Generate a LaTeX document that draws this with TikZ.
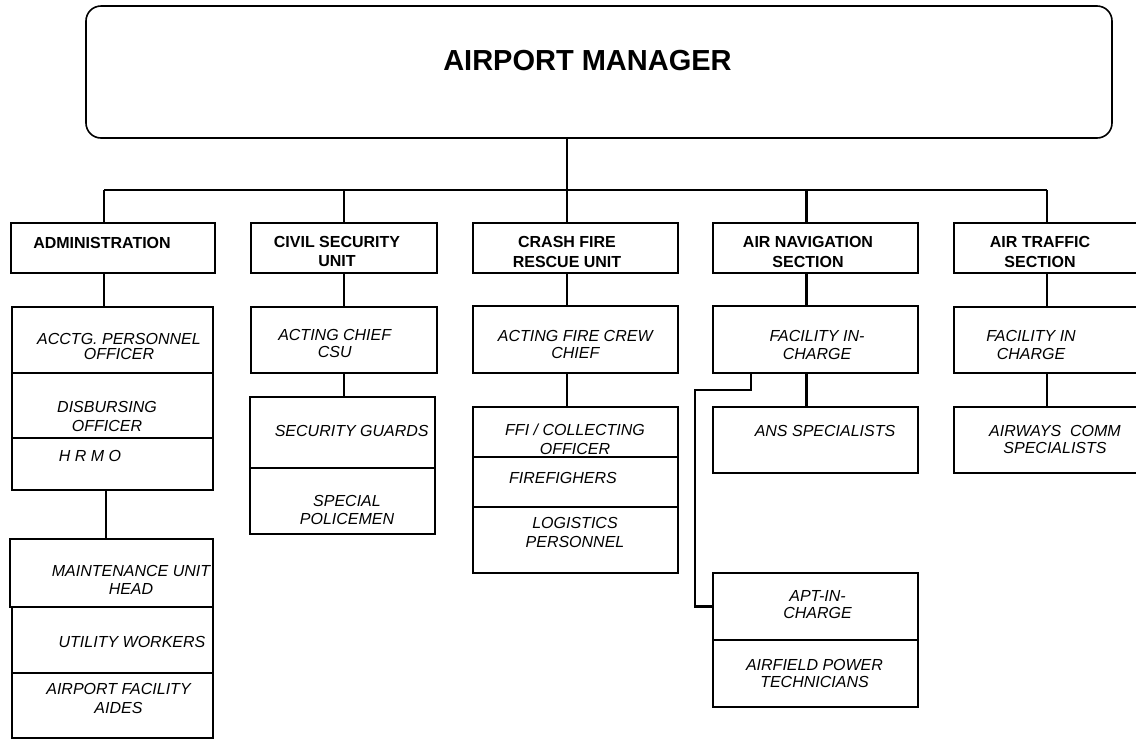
\documentclass[tikz,border=0pt]{standalone}
\usepackage{fontspec}
\setmainfont{Liberation Sans}
\usetikzlibrary{fit}
\tikzset{
  box/.style={draw, line width=1.2pt, inner sep=0pt},
  topbox/.style={draw, line width=0.8pt, rounded corners=7.5pt, inner sep=0pt},
  lbl/.style={font=\itshape\fontsize{8}{#1}\selectfont, align=center, inner sep=0pt},
  lbl/.default=9,
  hdr/.style={font=\bfseries\fontsize{8}{#1}\selectfont, align=center, inner sep=0pt},
  hdr/.default=9.75,
  conn/.style={line width=1.2pt},
  thin/.style={line width=0.8pt},
}
\begin{document}
\begin{tikzpicture}[x=0.5pt,y=-0.5pt]
\clip (0,0) rectangle (1136,740);
\fill[white] (0,0) rectangle (1136,740);

% top
\node[topbox, fit={(86,6) (1112,138)}] (mgr) {};
\node[font=\bfseries\fontsize{14.5}{16}\selectfont, inner sep=0pt] (mgrt) at (587.5,61) {AIRPORT MANAGER};

% trunk coordinates
\coordinate (ca) at (104,190);
\coordinate (cb) at (344,190);
\coordinate (cc) at (567,190);
\coordinate (cd) at (806.5,190);
\coordinate (ce) at (1047,190);

% level 1
\node[box, fit={(11,223) (215,273)}] (admin) {};
\node[box, fit={(251,223) (437,273)}] (csu) {};
\node[box, fit={(473,223) (678,273)}] (cfru) {};
\node[box, fit={(713,223) (918,273)}] (ans) {};
\node[box, fit={(954,223) (1145,273)}] (ats) {};

\node[hdr] (admint) at (102,242.7) {ADMINISTRATION};
\node[hdr] (csut) at (337,251.4) {CIVIL SECURITY\\UNIT};
\node[hdr] (cfrut) at (567,252) {CRASH FIRE\\RESCUE UNIT};
\node[hdr] (anst) at (808,252) {AIR NAVIGATION\\SECTION};
\node[hdr] (atst) at (1040,252) {AIR TRAFFIC\\SECTION};

% admin column
\node[box, fit={(12,307) (213,373)}] (acctg) {};
\node[box, fit={(12,373) (213,438)}] (disb) {};
\node[box, fit={(12,438) (213,490)}] (hrmo) {};
\node[box, fit={(10,539) (213,607)}] (maint) {};
\node[box, fit={(12,607) (213,673)}] (util) {};
\node[box, fit={(12,673) (213,738)}] (aides) {};
\node[lbl=7.5] (acctgt) at (119,346.5) {ACCTG. PERSONNEL\\OFFICER};
\node[lbl=9.5] (disbt) at (107,416.2) {DISBURSING\\OFFICER};
\node[lbl] (hrmot) at (90,456) {H R M O};
\node[lbl=9.1] (maintt) at (131,580.2) {MAINTENANCE UNIT\\HEAD};
\node[lbl] (utilt) at (132,641.7) {UTILITY WORKERS};
\node[lbl=9.3] (aidest) at (118.5,698.3) {AIRPORT FACILITY\\AIDES};

% csu column
\node[box, fit={(251,307) (437,373)}] (chief) {};
\node[box, fit={(250,397) (435,468)}] (guard) {};
\node[box, fit={(250,468) (435,534)}] (police) {};
\node[lbl=8.7] (chieft) at (334.7,343.5) {ACTING CHIEF\\CSU};
\node[lbl] (guardt) at (351.7,430.7) {SECURITY GUARDS};
\node[lbl=9.3] (policet) at (347,510) {SPECIAL\\POLICEMEN};

% cfru column
\node[box, fit={(473,306) (678,373)}] (crew) {};
\node[box, fit={(473,407) (678,457)}] (ffi) {};
\node[box, fit={(473,457) (678,507)}] (ff) {};
\node[box, fit={(473,507) (678,573)}] (logi) {};
\node[lbl=8.8] (crewt) at (575.3,344.5) {ACTING FIRE CREW\\CHIEF};
\node[lbl=9.5] (ffit) at (575,439.5) {FFI / COLLECTING\\OFFICER};
\node[lbl] (fft) at (563,477.7) {FIREFIGHERS};
\node[lbl=9.6] (logit) at (575,532.7) {LOGISTICS\\PERSONNEL};

% ans column
\node[box, fit={(713,306) (918,373)}] (fic) {};
\node[box, fit={(713,407) (918,473)}] (anss) {};
\node[box, fit={(713,573) (918,640)}] (apt) {};
\node[box, fit={(713,640) (918,707)}] (afpt) {};
\node[lbl=9.1] (fict) at (817,345.2) {FACILITY IN-\\CHARGE};
\node[lbl] (ansst) at (825,430.7) {ANS SPECIALISTS};
\node[lbl=8.4] (aptt) at (817.5,604.3) {APT-IN-\\CHARGE};
\node[lbl=8.7] (afptt) at (814.5,673.7) {AIRFIELD POWER\\TECHNICIANS};

% ats column
\node[box, fit={(954,307) (1145,373)}] (fic2) {};
\node[box, fit={(954,407) (1145,473)}] (acs) {};
\node[lbl=9] (fic2t) at (1031,345) {FACILITY IN\\CHARGE};
\node[lbl=8.8] (acst) at (1055,439.5) {AIRWAYS\ \ COMM\\SPECIALISTS};

% connectors
\draw[thin] (mgr.south -| cc) -- (cc);
\draw[conn] (ca) -- (ce);
\draw[conn] (ca) -- (admin.north -| ca);
\draw[conn] (cb) -- (csu.north -| cb);
\draw[conn] (cc) -- (cfru.north -| cc);
\draw[conn] (cd) -- (ans.north -| cd);
\draw[conn] (ce) -- (ats.north -| ce);

\draw[conn] (admin.south -| ca) -- (acctg.north -| ca);
\coordinate (cm) at (106,500);
\draw[conn] (hrmo.south -| cm) -- (maint.north -| cm);

\draw[conn] (csu.south -| cb) -- (chief.north -| cb);
\draw[conn] (chief.south -| cb) -- (guard.north -| cb);

\draw[conn] (cfru.south -| cc) -- (crew.north -| cc);
\draw[conn] (crew.south -| cc) -- (ffi.north -| cc);

\draw[conn] (ans.south -| cd) -- (fic.north -| cd);
\draw[conn] (fic.south -| cd) -- (anss.north -| cd);
\coordinate (cf) at (751,390);
\coordinate (cg) at (695,390);
\draw[conn] (fic.south -| cf) -- (cf) -- (cg) -- (cg |- apt.west) -- (apt.west);

\draw[conn] (ats.south -| ce) -- (fic2.north -| ce);
\draw[conn] (fic2.south -| ce) -- (acs.north -| ce);
\end{tikzpicture}
\end{document}
